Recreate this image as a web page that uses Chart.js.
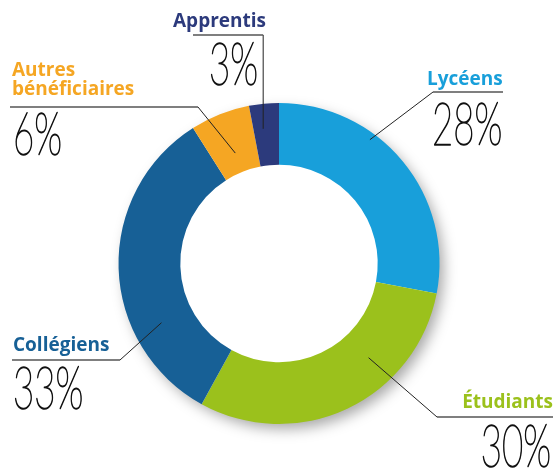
<!DOCTYPE html>
<html>
<head>
<meta charset="utf-8">
<script src="https://cdn.jsdelivr.net/npm/chart.js@4"></script>
<style>
html,body{margin:0;padding:0;background:#fff;}
canvas{display:block;}
</style>
</head>
<body>
<canvas id="c" width="555" height="470"></canvas>
<script>
// ---- data ----
const categories = ["Lycéens", "Étudiants", "Collégiens", "Autres\nbénéficiaires", "Apprentis"];
const values = [28, 30, 33, 6, 3];
const colors = ["#189fda", "#9bc11c", "#176096", "#f5a623", "#2c3a7c"];

// ---- label layout (positions / styles only) ----
const layout = [
  {align:"left",  lx:427, lby:85,  px:432, pby:145, t:0.36, r:0.957, elbow:[433,92], end:503},
  {align:"right", lx:553, lby:408, px:551, pby:467, t:0.33, r:0.81,  elbow:[437,417], end:553},
  {align:"left",  lx:13,  lby:351, px:13,  pby:409, t:0.29, r:0.82,  elbow:[120,360], end:12},
  {align:"left",  lx:12,  lby:76,  px:13,  pby:155, t:0.5,  r:0.74,  elbow:[198,107], end:10},
  {align:"right", lx:266, lby:27,  px:258, pby:85,  t:0.38, r:0.845, elbow:null, elbowY:35, end:193}
];

const shadowPlugin = {
  id: "ringShadow",
  beforeDatasetsDraw(chart) {
    const arc = chart.getDatasetMeta(0).data[0];
    if (!arc) return;
    const ctx = chart.ctx;
    ctx.save();
    ctx.shadowColor = "rgba(0,0,0,0.35)";
    ctx.shadowBlur = 14;
    ctx.shadowOffsetX = 5;
    ctx.shadowOffsetY = 6;
    ctx.fillStyle = "#fff";
    ctx.beginPath();
    ctx.arc(arc.x, arc.y, arc.outerRadius - 1, 0, Math.PI * 2);
    ctx.fill();
    ctx.restore();
  }
};

const labelPlugin = {
  id: "calloutLabels",
  afterDatasetsDraw(chart) {
    const ctx = chart.ctx;
    const meta = chart.getDatasetMeta(0);
    meta.data.forEach((arc, i) => {
      const L = layout[i];
      const a = arc.startAngle + L.t * (arc.endAngle - arc.startAngle);
      const ex = arc.x + L.r * arc.outerRadius * Math.cos(a);
      const ey = arc.y + L.r * arc.outerRadius * Math.sin(a);
      const elbow = L.elbow ? L.elbow : [ex, L.elbowY];
      // leader line
      ctx.save();
      ctx.strokeStyle = "#222";
      ctx.lineWidth = 1;
      ctx.beginPath();
      ctx.moveTo(ex, ey);
      ctx.lineTo(elbow[0], elbow[1]);
      ctx.stroke();
      ctx.strokeStyle = "#555";
      ctx.lineWidth = 1.3;
      ctx.beginPath();
      ctx.moveTo(elbow[0], elbow[1]);
      ctx.lineTo(L.end, elbow[1]);
      ctx.stroke();
      ctx.restore();
      // category label
      ctx.save();
      ctx.fillStyle = colors[i];
      ctx.font = "700 19px 'Open Sans'";
      ctx.textAlign = L.align;
      ctx.textBaseline = "alphabetic";
      const lines = categories[i].split("\n");
      lines.forEach((ln, k) => ctx.fillText(ln, L.lx, L.lby + k * 19));
      ctx.restore();
      // percentage
      ctx.save();
      const txt = values[i] + "%";
      ctx.font = "200 59px Lato";
      ctx.fillStyle = "#111";
      ctx.strokeStyle = "#111";
      ctx.lineWidth = 1.4;
      ctx.lineJoin = "round";
      ctx.textBaseline = "alphabetic";
      ctx.textAlign = L.align;
      ctx.translate(L.px, L.pby);
      ctx.scale(0.62, 1);
      ctx.fillText(txt, 0, 0);
      ctx.strokeText(txt, 0, 0);
      ctx.restore();
    });
  }
};

new Chart(document.getElementById("c"), {
  type: "doughnut",
  data: {
    labels: categories,
    datasets: [{
      data: values,
      backgroundColor: colors,
      borderWidth: 0,
      hoverOffset: 0
    }]
  },
  options: {
    responsive: false,
    animation: false,
    cutout: "61.5%",
    layout: {padding: {top: 103, bottom: 46, left: 118, right: 115}},
    plugins: {legend: {display: false}, tooltip: {enabled: false}}
  },
  plugins: [shadowPlugin, labelPlugin]
});
</script>
</body>
</html>
